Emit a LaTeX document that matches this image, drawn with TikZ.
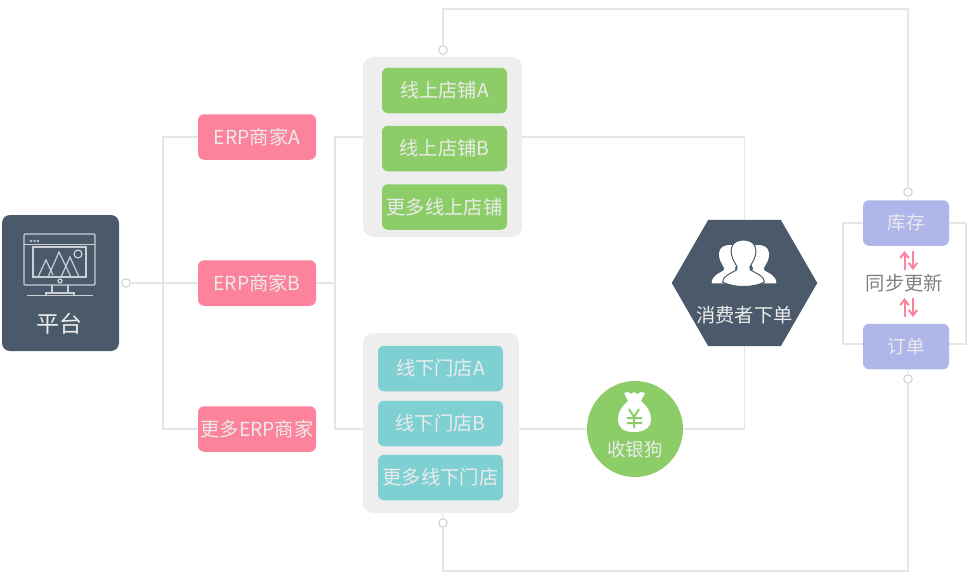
\documentclass[tikz,border=0pt]{standalone}
\usepackage{fontspec}
\setmainfont{Noto Sans CJK SC}
\usetikzlibrary{arrows.meta,positioning,calc,shapes.geometric}
\definecolor{slateC}{HTML}{4A5A6A}
\definecolor{pinkC}{HTML}{FD829B}
\definecolor{greenC}{HTML}{8CCD68}
\definecolor{tealC}{HTML}{7FD0D2}
\definecolor{lilacC}{HTML}{AFB6EA}
\definecolor{panelC}{HTML}{EEEEEE}
\definecolor{wireC}{HTML}{E6E6E6}
\definecolor{iconC}{HTML}{C9CFD5}
\begin{document}
\begin{tikzpicture}[
  x=1pt, y=-1pt,
  every node/.style={font=\fontsize{19.3}{22}\selectfont, text=white!92!black, inner sep=0pt, outer sep=0pt},
  box/.style={rectangle, rounded corners=6pt, minimum height=45.5pt},
  merchant/.style={box, fill=pinkC, minimum width=118pt},
  shop/.style={box, fill=greenC, minimum width=125pt},
  store/.style={box, fill=tealC, minimum width=125pt},
  sync/.style={box, fill=lilacC, minimum width=86pt, font=\fontsize{18.5}{22}\selectfont},
  panel/.style={rectangle, rounded corners=10pt, fill=panelC},
  wire/.style={draw=wireC, line width=1.1pt},
  joint/.style={circle, draw=wireC!90!black, fill=white, line width=1pt, minimum size=8.5pt},
  swap/.style={draw=pinkC, line width=2pt, -{Straight Barb[length=5.5pt,width=8.5pt]}},
  icon/.style={draw=iconC, line width=1.2pt},
]
\useasboundingbox (0,0) rectangle (968,578);

% left column
\node[rectangle, rounded corners=8pt, fill=slateC, minimum width=117pt, minimum height=136pt] (pf) at (60.5,283) {};
\node[font=\fontsize{23}{26}\selectfont] (pflabel) at (59.5,324) {平台};
\node[joint] (pfjoint) at (126,283) {};
\node[merchant] (erpA) at (257,137) {ERP商家A};
\node[merchant] (erpB) at (257,283) {ERP商家B};
\node[merchant] (erpM) at (257,429) {更多ERP商家};

% shops and stores
\node[panel, minimum width=159pt, minimum height=180pt] (online) at (442.5,147) {};
\node[shop] (shopA) at (444.5,90.5) {线上店铺A};
\node[shop] (shopB) at (444.5,148.5) {线上店铺B};
\node[shop] (shopM) at (444.5,207) {更多线上店铺};
\node[panel, minimum width=156pt, minimum height=180pt] (offline) at (441,423) {};
\node[store] (storeA) at (440.5,368.5) {线下门店A};
\node[store] (storeB) at (440.5,423.5) {线下门店B};
\node[store] (storeM) at (440.5,477.5) {更多线下门店};
\node[joint] (upjoint) at (443,50) {};
\node[joint] (lowjoint) at (443,523) {};

% customers and cashier
\node[regular polygon, regular polygon sides=6, fill=slateC, minimum size=145.5pt] (hex) at (744.5,283) {};
\node (hexlabel) at (744.5,315) {消费者下单};
\node[circle, fill=greenC, minimum size=96pt] (cash) at (635,429) {};
\node[font=\fontsize{18.5}{22}\selectfont] (cashlabel) at (635,449) {收银狗};

% sync column
\node[sync] (stock) at (906,223) {库存};
\node[sync] (order) at (906,346.5) {订单};
\node[text=black!50] (synclabel) at (904.5,283.5) {同步更新};
\node[joint] (stockjoint) at (908,192) {};
\node[joint] (orderjoint) at (908,379) {};

% helper points
\coordinate (trunkL) at (163,283);
\coordinate (trunkM) at (335,283);
\coordinate (topY) at (443,9);
\coordinate (lowY) at (443,571);
\coordinate (loopL) at (843,283);
\coordinate (loopR) at (966,283);
\coordinate (stockW) at (863,223);
\coordinate (stockE) at (949,223);
\coordinate (orderW) at (863,344);
\coordinate (orderE) at (949,344);

% connectors
\draw[wire] (pfjoint) -- (erpB);
\draw[wire] (erpA.west) -| (trunkL) |- (erpM.west);
\draw[wire] (erpB) -- (trunkM);
\draw[wire] (online.west |- erpA.west) -| (trunkM) |- (offline.west |- erpM.west);
\draw[wire] (online.east |- erpA.east) -| (hex.north);
\draw[wire] (offline.east |- erpM.east) -- (cash.west);
\draw[wire] (cash.east) -| (hex.south);
\draw[wire] (online) -- (upjoint);
\draw[wire] (upjoint) |- (topY) -| (stockjoint);
\draw[wire] (stockjoint) -- (stock);
\draw[wire] (offline) -- (lowjoint);
\draw[wire] (lowjoint) |- (lowY) -| (orderjoint);
\draw[wire] (orderjoint) -- (order);
\draw[wire] (stockW) -| (loopL) |- (orderW);
\draw[wire] (stockE) -| (loopR) |- (orderE);

% swap arrows
\coordinate (upA) at (904.5,270);
\coordinate (upB) at (904.5,251);
\coordinate (downA) at (913,251);
\coordinate (downB) at (913,270);
\coordinate (upC) at (904.5,317);
\coordinate (upD) at (904.5,298);
\coordinate (downC) at (913,298);
\coordinate (downD) at (913,317);
\draw[swap] (upA) -- (upB);
\draw[swap] (downA) -- (downB);
\draw[swap] (upC) -- (upD);
\draw[swap] (downC) -- (downD);

% monitor icon
\draw[icon, rounded corners=1pt] (24,234) rectangle (95,285);
\draw[icon] (24,244.5) -- (95,244.5);
\draw[icon] (33,247) rectangle (86,277);
\draw[icon] (38,277) -- (46,260) -- (53,275);
\draw[icon] (48,277) -- (59,252) -- (71,277);
\draw[icon] (61,277) -- (70,257) -- (79,277);
\draw[icon] (78,254) circle (4);
\draw[icon, line width=.7pt] (31,241) circle (1) (34.5,241) circle (1) (38,241) circle (1);
\draw[icon] (60,281) circle (2);
\draw[icon] (52,285) -- (52,293) (68,285) -- (68,293);
\draw[icon] (46,295) -- (46,293) -- (74,293) -- (74,295);
\draw[icon] (27,295.5) -- (93,295.5);

% people icon
\begin{scope}[shift={(729.5,245)}, scale=.85]
\fill[white] (-21,45) .. controls (-21,36) and (-12,33) .. (-7,30) .. controls (-6,28) and (-6,26) .. (-8,24) .. controls (-12,18) and (-13,12) .. (-12,8) .. controls (-11,2) and (-5,0) .. (0,0) .. controls (5,0) and (11,2) .. (12,8) .. controls (13,12) and (12,18) .. (8,24) .. controls (6,26) and (6,28) .. (7,30) .. controls (12,33) and (21,36) .. (21,45) -- cycle;
\end{scope}
\begin{scope}[shift={(758.5,245)}, scale=.85]
\fill[white] (-21,45) .. controls (-21,36) and (-12,33) .. (-7,30) .. controls (-6,28) and (-6,26) .. (-8,24) .. controls (-12,18) and (-13,12) .. (-12,8) .. controls (-11,2) and (-5,0) .. (0,0) .. controls (5,0) and (11,2) .. (12,8) .. controls (13,12) and (12,18) .. (8,24) .. controls (6,26) and (6,28) .. (7,30) .. controls (12,33) and (21,36) .. (21,45) -- cycle;
\end{scope}
\begin{scope}[shift={(743.5,240)}]
\filldraw[fill=white, draw=slateC, line width=1pt] (-21,42) .. controls (-21,36) and (-12,33) .. (-7,30) .. controls (-6,28) and (-6,26) .. (-8,24) .. controls (-12,18) and (-13,12) .. (-12,8) .. controls (-11,2) and (-5,0) .. (0,0) .. controls (5,0) and (11,2) .. (12,8) .. controls (13,12) and (12,18) .. (8,24) .. controls (6,26) and (6,28) .. (7,30) .. controls (12,33) and (21,36) .. (21,42) .. controls (10,48) and (-10,48) .. (-21,42) -- cycle;
\end{scope}

% money bag icon
\fill[white] (624,393) -- (628,392) -- (631,394) -- (634,392) -- (637,394) -- (641,392) -- (645,393) -- (641,401) .. controls (647,406) and (651,412) .. (651,419) .. controls (651,428) and (644,432) .. (634,432) .. controls (624,432) and (618,428) .. (618,419) .. controls (618,412) and (622,406) .. (628,401) -- cycle;
\draw[greenC, line width=2pt] (629,409) -- (634,417) -- (639,409) (634,417) -- (634,428) (627,418) -- (642,418) (627,423) -- (642,423);
\end{tikzpicture}
\end{document}
